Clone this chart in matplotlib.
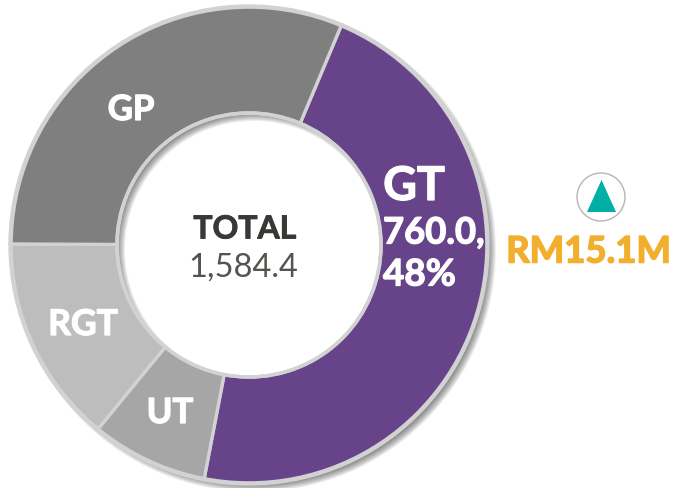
import matplotlib
matplotlib.use('Agg')
import matplotlib.pyplot as plt
import matplotlib.patheffects as pe
from matplotlib.patches import Circle, Wedge, Polygon

labels = ['GT', 'UT', 'RGT', 'GP']
# sizes
values = [760.0, 129.0, 230.0, 509.0]
colors = ['#67448a', '#a6a6a6', '#bdbdbd', '#7f7f7f']
total_text = '1,584.4'
change_text = 'RM15.1M'

plt.rcParams['font.family'] = ['Lato', 'DejaVu Sans']

fig = plt.figure(figsize=(6.73, 4.88), dpi=100)
ax = fig.add_axes([0, 0, 1, 1])

cx, cy = 249, 243
r_out, r_in = 239, 132

# soft shadow of the ring, stacked up from thin transparent rings
for i in range(12):
    ax.add_patch(Wedge((cx + 5, cy - 5), r_out + 3 - i * 0.9, 0, 360, width=r_out - r_in + 6 - i * 1.8,
                       facecolor='black', edgecolor='none', alpha=0.06, zorder=1))

ax.pie(values, colors=colors, center=(cx, cy), radius=r_out, startangle=67.2, counterclock=False,
       wedgeprops=dict(width=r_out - r_in, edgecolor='#d2d2d2', linewidth=2.4, zorder=2), frame=True)
ax.set_xlim(0, 673)
ax.set_ylim(0, 488)
ax.set_aspect('equal')
ax.axis('off')

ax.add_patch(Circle((cx, cy), r_out - 1, fill=False, edgecolor='#d2d2d2', linewidth=2.6, zorder=3))
ax.add_patch(Circle((cx, cy), r_in, fill=False, edgecolor='#d2d2d2', linewidth=2.6, zorder=3))


def heavy(x, y, s, size, color, ha='center', stroke=0.9):
    t = ax.text(x, 488 - y, s, fontsize=size, color=color, fontweight='bold', ha=ha, va='center', zorder=5)
    t.set_path_effects([pe.withStroke(linewidth=stroke, foreground=color)])


heavy(131, 110, 'GP', 25, 'white')
heavy(83, 325, 'RGT', 25.5, 'white')
heavy(170, 413, 'UT', 25, 'white')
heavy(414, 186, 'GT', 33.5, 'white')
heavy(383, 233, '760.0,', 26.2, 'white', ha='left')
heavy(383, 275, '48%', 26.5, 'white', ha='left')

heavy(245, 229, 'TOTAL', 23, '#3a3835', stroke=0.6)
ax.text(243.5, 488 - 268, total_text, fontsize=23.5, color='#55524f', fontweight='normal', ha='center', va='center')

ax.add_patch(Circle((601, 488 - 197), 24, facecolor='white', edgecolor='#b5b5b5', linewidth=1))
ax.add_patch(Polygon([(601.5, 488 - 180), (587, 488 - 212), (616, 488 - 212)], closed=True, facecolor='#00b0a4', edgecolor='none'))
heavy(588.5, 252, change_text, 26.3, '#f2af2e', stroke=1.1)

fig.savefig('out.png', dpi=100)
